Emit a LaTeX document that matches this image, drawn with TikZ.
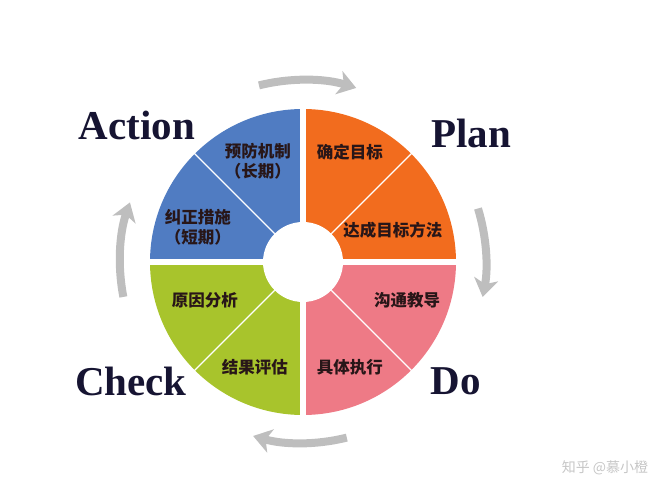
\documentclass[tikz,border=0pt]{standalone}
\usepackage{fontspec}
\setmainfont{Liberation Serif}
\newfontfamily\cjk{Noto Sans CJK SC}
\usetikzlibrary{arrows.meta,positioning}
\definecolor{planc}{RGB}{242,108,30}
\definecolor{actc}{RGB}{80,124,194}
\definecolor{chkc}{RGB}{168,196,44}
\definecolor{doc}{RGB}{238,122,134}
\definecolor{itemtext}{RGB}{40,22,24}
\definecolor{phasetext}{RGB}{22,20,50}
\definecolor{arrowgray}{RGB}{190,190,190}

\begin{document}
\begin{tikzpicture}
[x=1pt,y=1pt,
%
gap/.style={white,line width=6pt},
split/.style={white,line width=1.2pt},
item/.style={font=\cjk\bfseries\fontsize{16.5}{20}\selectfont,text=itemtext,align=center,inner sep=1pt},
phase/.style={font=\bfseries\fontsize{41}{45}\selectfont,text=phasetext},
%
turn/.style={draw=arrowgray,line width=8pt,-{Stealth[length=18pt,width=24pt,inset=5pt]}}]
%
\useasboundingbox (-303,-238) rectangle (364,262);
% wheel
\foreach \a/\c in {0/planc,90/actc,180/chkc,270/doc}
\fill[\c] (0,0) -- (\a:153) arc[start angle=\a,delta angle=90,radius=153] -- cycle;
\foreach \a in {45,135,225,315}
\draw[split] (\a:40) -- (\a:156);
\draw[gap] (-156,0) -- (156,0);
\draw[gap] (0,-156) -- (0,156);
\fill[white] (0,0) circle (40);
% items
\node (a1) [item] at (-45,101) {预防机制\\（长期）};
\node (a2) [item] at (-105,35) {纠正措施\\（短期）};
\node (p1) [item] at (47,110) {确定目标};
\node (p2) [item] at (90,32) {达成目标方法};
\node (d1) [item] at (104,-38) {沟通教导};
\node (d2) [item] at (47,-105) {具体执行};
\node (c1) [item] at (-98,-38) {原因分析};
\node (c2) [item] at (-48,-105) {结果评估};
% phases
\node (act) [phase] at (-166,137) {Action};
\node (plan) [phase] at (168,129) {Plan};
\node (chk) [phase] at (-172,-119) {Check};
\node (do) [phase] at (153,-119) {Do};
% cycle
\draw[turn] (104:182) arc[start angle=104,end angle=73,radius=182];
\draw[turn] (17:183) arc[start angle=17,end angle=-11,radius=183];
\draw[turn] (-76:181) arc[start angle=-76,end angle=-106,radius=181];
\draw[turn] (191:183) arc[start angle=191,end angle=161,radius=183];
%
\node (wm) [font=\cjk\fontsize{14}{16}\selectfont,text=gray!45] at (302,-206) {知乎 @慕小橙};
\end{tikzpicture}
\end{document}
